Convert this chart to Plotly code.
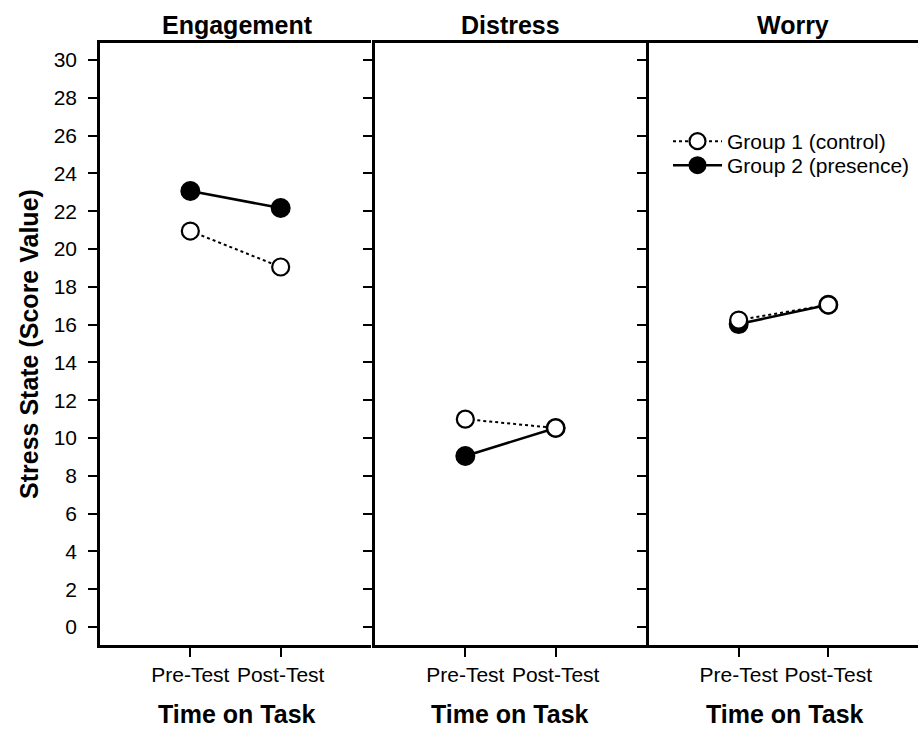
import plotly.graph_objects as go

# Stress-state scores per dimension, before and after the task
panels = ["Engagement", "Distress", "Worry"]
time_labels = ["Pre-Test", "Post-Test"]
group1_name = "Group 1 (control)"
group2_name = "Group 2 (presence)"
group1_scores = {
    "Engagement": [20.95, 19.05],
    "Distress": [11.0, 10.53],
    "Worry": [16.24, 17.05],
}
group2_scores = {
    "Engagement": [23.07, 22.17],
    "Distress": [9.05, 10.53],
    "Worry": [16.03, 17.05],
}
y_ticks = list(range(0, 31, 2))

W, H = 918, 731
FONT = "Liberation Sans, Arial, sans-serif"
TITLE_SIZE = 25

# panel extents in pixels
panel_x = [(100, 371), (375, 646), (649, 920)]
plot_top, plot_bottom = 43, 645

fig = go.Figure()

for i, name in enumerate(panels):
    n = "" if i == 0 else str(i + 1)
    xa, ya = "x" + n, "y" + n
    # presence group first so the open control markers sit on top
    fig.add_trace(go.Scatter(
        x=[0, 1], y=group2_scores[name], xaxis=xa, yaxis=ya,
        mode="lines+markers", name=group2_name, legend="legend2",
        showlegend=(i == 0), legendgroup="g2",
        line=dict(color="black", width=2.5),
        marker=dict(symbol="circle", size=18, color="black",
                    line=dict(color="black", width=2)),
    ))
    fig.add_trace(go.Scatter(
        x=[0, 1], y=group1_scores[name], xaxis=xa, yaxis=ya,
        mode="lines+markers", name=group1_name, legend="legend",
        showlegend=(i == 0), legendgroup="g1",
        line=dict(color="black", width=2, dash="dot"),
        marker=dict(symbol="circle", size=17, color="white",
                    line=dict(color="black", width=2.2)),
    ))

legend_style = dict(
    xanchor="left", yanchor="top", bgcolor="rgba(0,0,0,0)",
    font=dict(size=21, family=FONT), itemwidth=49,
)

layout = dict(
    width=W, height=H,
    margin=dict(l=0, r=0, t=0, b=0),
    paper_bgcolor="white", plot_bgcolor="white",
    font=dict(family=FONT, color="black"),
    legend=dict(x=668 / W, y=1 - 121 / H, **legend_style),
    legend2=dict(x=668 / W, y=1 - 145 / H, **legend_style),
)

for i, (x0, x1) in enumerate(panel_x):
    n = "" if i == 0 else str(i + 1)
    layout["xaxis" + n] = dict(
        domain=[x0 / W, min(x1 / W, 1.0)], range=[-1, 2],
        anchor="y" + n,
        tickmode="array", tickvals=[0, 1], ticktext=time_labels,
        ticks="outside", ticklen=9, tickwidth=2, tickcolor="black",
        ticklabelstandoff=0,
        tickfont=dict(size=21, family=FONT),
        showline=True, linewidth=2.5, linecolor="black", mirror=True,
        showgrid=False, zeroline=False, fixedrange=True,
    )
    layout["yaxis" + n] = dict(
        domain=[1 - plot_bottom / H, 1 - plot_top / H], range=[-0.95, 30.9],
        anchor="x" + n,
        tickmode="array", tickvals=y_ticks,
        showticklabels=(i == 0),
        ticks="outside", ticklen=9, tickwidth=2, tickcolor="black",
        ticklabelstandoff=7,
        tickfont=dict(size=21, family=FONT),
        showline=True, linewidth=2.5, linecolor="black",
        showgrid=False, zeroline=False, fixedrange=True,
    )

fig.update_layout(**layout)

# panel titles and x-axis titles
title_centers = [237, 510, 793]
xtitle_centers = [237, 510, 785]
for i, name in enumerate(panels):
    fig.add_annotation(
        text=f"<b>{name}</b>", x=title_centers[i] / W, y=1 - 25 / H,
        xref="paper", yref="paper", xanchor="center", yanchor="middle",
        showarrow=False, font=dict(size=TITLE_SIZE, family=FONT),
    )
    fig.add_annotation(
        text="<b>Time on Task</b>", x=xtitle_centers[i] / W, y=1 / H,
        xref="paper", yref="paper", xanchor="center", yanchor="bottom",
        showarrow=False, font=dict(size=TITLE_SIZE, family=FONT),
    )

fig.add_annotation(
    text="<b>Stress State (Score Value)</b>", x=29 / W, y=1 - 344 / H,
    xref="paper", yref="paper", xanchor="center", yanchor="middle",
    textangle=-90, showarrow=False, font=dict(size=TITLE_SIZE, family=FONT),
)

fig.write_html("out.html")
